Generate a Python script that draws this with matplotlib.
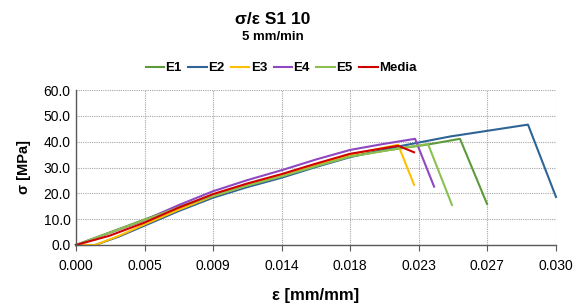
import matplotlib
matplotlib.use("Agg")
import matplotlib.pyplot as plt
import numpy as np

plt.rcParams['font.family'] = ['Liberation Sans', 'DejaVu Sans']

# strain [mm/mm] / stress [MPa]
e1_x = [0.0, 0.00425, 0.0064, 0.00856, 0.0107, 0.01288, 0.0150, 0.01713, 0.0195, 0.0220, 0.0240, 0.02569]
e1_y = [0.0, 9.8, 14.7, 19.2, 23.2, 26.8, 30.7, 34.3, 36.7, 38.9, 41.1, 15.9]
e2_x = [0.0, 0.0012, 0.0027, 0.00425, 0.0064, 0.00856, 0.0107, 0.01288, 0.0150, 0.01713,
        0.0202, 0.02338, 0.02825, 0.0300]
e2_y = [0.0, 0.0, 3.3, 7.4, 13.1, 18.3, 22.4, 26.1, 30.2, 34.0, 38.2, 42.0, 46.6, 18.6]
e3_x = [0.0, 0.0012, 0.0027, 0.00425, 0.0064, 0.00856, 0.0107, 0.01288, 0.0150, 0.01713, 0.02013, 0.02113]
e3_y = [0.0, 0.0, 3.6, 7.9, 13.6, 18.9, 23.1, 27.0, 31.1, 35.0, 38.8, 23.3]
e4_x = [0.0, 0.00425, 0.0064, 0.00856, 0.0107, 0.01288, 0.0150, 0.01713, 0.0192, 0.02119, 0.02238]
e4_y = [0.0, 9.5, 15.4, 20.8, 25.1, 29.0, 33.1, 36.8, 39.1, 41.1, 22.6]
e5_x = [0.0, 0.00425, 0.0064, 0.00856, 0.0107, 0.01288, 0.0150, 0.01713, 0.0196, 0.0220, 0.0235]
e5_y = [0.0, 9.6, 14.5, 19.0, 23.0, 26.6, 30.5, 34.2, 36.8, 39.1, 15.5]
med_x = [0.0, 0.0021, 0.00425, 0.0064, 0.00856, 0.0107, 0.01288, 0.0150, 0.01713, 0.02013, 0.02113]
med_y = [0.0, 3.6, 8.6, 14.4, 19.7, 23.8, 27.5, 31.5, 35.3, 38.4, 35.9]

names = ["E1", "E2", "E3", "E4", "E5", "Media"]
colors = ["#5E9A3C", "#2F6496", "#FFC000", "#8E48C0", "#8CC152", "#D00000"]
series = [(e1_x, e1_y), (e2_x, e2_y), (e3_x, e3_y), (e4_x, e4_y), (e5_x, e5_y), (med_x, med_y)]

xticklabels = ["0.000", "0.005", "0.009", "0.014", "0.018", "0.023", "0.027", "0.030"]
yticks = [0, 10, 20, 30, 40, 50, 60]

fig = plt.figure(figsize=(5.76, 3.06), dpi=100)
ax = fig.add_axes([76/576, 1-245/306, 480/576, 155/306])

for (x, y), n, c in zip(series, names, colors):
    ax.plot(x, y, color=c, lw=1.5, label=n, solid_joinstyle='round', clip_on=False)

ax.set_xlim(0, 0.030)
ax.set_ylim(0, 60)
ax.set_xticks(np.linspace(0, 0.030, 8))
ax.set_xticklabels(xticklabels)
ax.set_yticks(yticks)
ax.set_yticklabels([f"{v:.1f}" for v in yticks])
ax.tick_params(axis='x', length=4, color="#595959", labelsize=10, pad=6)
ax.tick_params(axis='y', length=0, labelsize=10, pad=4)
ax.grid(True, color="#A6A6A6", linestyle=(0, (1, 1)), lw=0.8)
for s in ["top", "right"]:
    ax.spines[s].set_visible(False)
for s in ["left", "bottom"]:
    ax.spines[s].set_color("#595959")
    ax.spines[s].set_linewidth(1.0)

ax.set_xlabel("ε [mm/mm]", fontsize=12, fontweight="bold", labelpad=11)
ax.set_ylabel("σ [MPa]", fontsize=10.5, fontweight="bold", labelpad=9)

fig.text(273/576, 1-20/306, "σ/ε S1 10", ha="center", va="center", fontsize=12.5, fontweight="bold")
fig.text(273/576, 1-37/306, "5 mm/min", ha="center", va="center", fontsize=9.5, fontweight="bold")

fig.legend(loc="center", bbox_to_anchor=(281/576, 1-68/306), ncol=6, frameon=False,
           prop={"size": 9.5, "weight": "bold"}, handlelength=1.4, handletextpad=0.1,
           columnspacing=0.5)

fig.savefig("out.png", dpi=100)
